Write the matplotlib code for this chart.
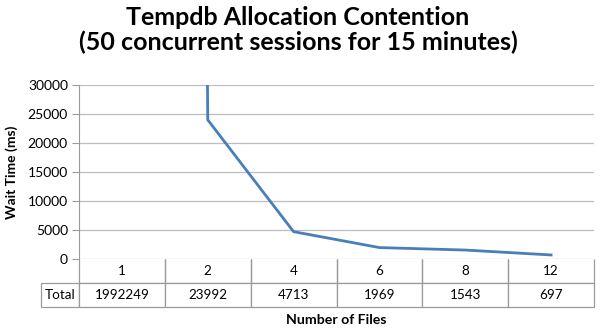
import matplotlib
matplotlib.use("Agg")
import matplotlib.pyplot as plt

plt.rcParams['font.family'] = ['Lato', 'DejaVu Sans']

files = ['1', '2', '4', '6', '8', '12']
wait_ms = [1992249, 23992, 4713, 1969, 1543, 697]
row_label = 'Total'
y_ticks = [0, 5000, 10000, 15000, 20000, 25000, 30000]

line_c = '#4a7ebb'
grid_c = '#bdbdbd'
edge_c = '#9a9a9a'

W, H = 600, 328
fig = plt.figure(figsize=(W / 100, H / 100), dpi=100)
# plot area in pixels: left 79, right 594, top 85, bottom 259
L, R, T, B = 79, 594, 85, 259
ax = fig.add_axes([L / W, 1 - B / H, (R - L) / W, (B - T) / H])

xs = list(range(len(files)))
ax.plot(xs, wait_ms, color=line_c, lw=2.0, solid_joinstyle='miter')
ax.set_xlim(-0.5, len(files) - 0.5)
ax.set_ylim(0, 30000)
ax.set_yticks(y_ticks)
ax.set_yticklabels([str(t) for t in y_ticks], fontsize=10)
ax.set_xticks([])
ax.grid(axis='y', color=grid_c, lw=0.9)
ax.set_axisbelow(True)
for side in ['top', 'right', 'bottom']:
    ax.spines[side].set_visible(False)
ax.spines['left'].set_color(edge_c)
ax.tick_params(axis='y', length=5, color=edge_c, pad=3)

ax.set_ylabel('Wait Time (ms)', fontsize=10, fontweight='bold', labelpad=7)

# data table under the plot, first column holds the row label
lab_w = (L - 41) / (R - L)
tab_h = (307 - B) / (B - T)
rows = [[''] + files, [row_label] + [str(v) for v in wait_ms]]
tbl = ax.table(cellText=rows,
               colWidths=[lab_w] + [1 / len(files)] * len(files),
               cellLoc='center',
               bbox=[-lab_w, -tab_h, 1 + lab_w, tab_h])
tbl.auto_set_font_size(False)
for (r, c), cell in tbl.get_celld().items():
    cell.set_edgecolor(edge_c)
    cell.set_linewidth(0.9)
    cell.get_text().set_fontsize(9.7)
    if r == 0 and c == 0:
        cell.visible_edges = ''
    elif r == 0:
        cell.visible_edges = 'BLR'

fig.text(298 / W, 1 - 25 / H, 'Tempdb Allocation Contention',
         ha='center', va='baseline', fontsize=18, fontweight='bold')
fig.text(298 / W, 1 - 50 / H, '(50 concurrent sessions for 15 minutes)',
         ha='center', va='baseline', fontsize=18, fontweight='bold')
fig.text((L + R) / 2 / W, 1 - 324 / H, 'Number of Files', ha='center', va='baseline',
         fontsize=10.2, fontweight='bold')

fig.savefig('out.png', dpi=100)
